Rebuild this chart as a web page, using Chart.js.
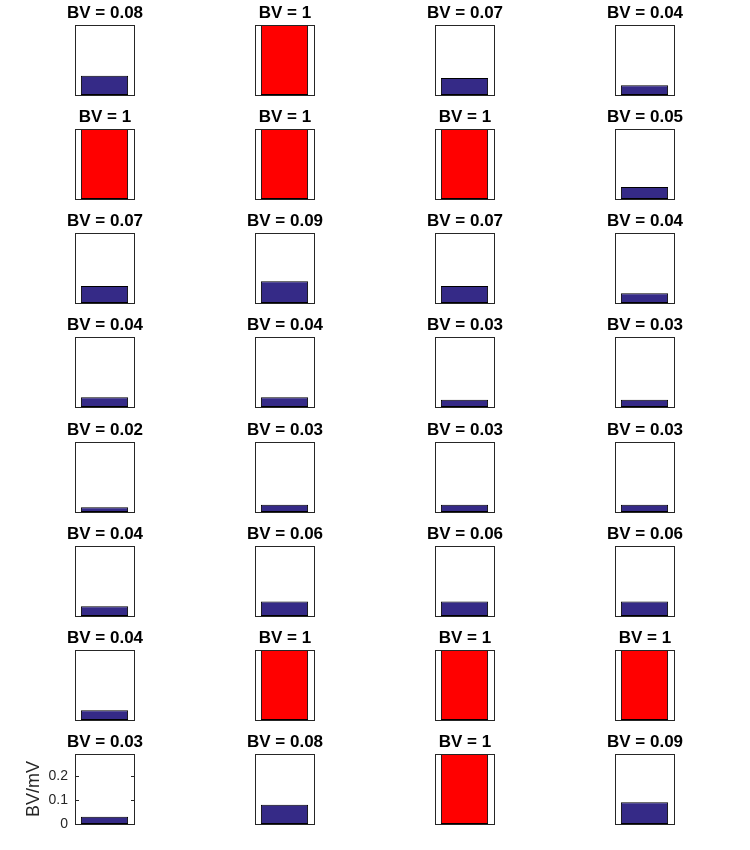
<!DOCTYPE html>
<html>
<head>
<meta charset="utf-8">
<script src="https://cdn.jsdelivr.net/npm/chart.js@4"></script>
<style>
  html, body { margin: 0; padding: 0; background: #fff; }
  #wrap { position: relative; width: 750px; height: 850px; overflow: hidden; background: #fff; }
  #wrap canvas { position: absolute; }
</style>
</head>
<body>
<div id="wrap"></div>
<script>
// ---- data (row-major, 8 rows x 4 columns) ----
const bvValues = [
  0.08, 1,    0.07, 0.04,
  1,    1,    1,    0.05,
  0.07, 0.09, 0.07, 0.04,
  0.04, 0.04, 0.03, 0.03,
  0.02, 0.03, 0.03, 0.03,
  0.04, 0.06, 0.06, 0.06,
  0.04, 1,    1,    1,
  0.03, 0.08, 1,    0.09
];
const yTicks = [0, 0.1, 0.2];
const yAxisTitle = 'BV/mV';
const titlePrefix = 'BV = ';

// ---- layout / style ----
const nRows = 8, nCols = 4;
const yMax = 0.29;
const blue = 'rgb(53,42,135)';
const red = 'rgb(255,0,0)';
Chart.defaults.font.family = "'Liberation Sans', Arial, Helvetica, sans-serif";

const boxPlugin = {
  id: 'box',
  afterDraw(chart, args, opts) {
    const {ctx, chartArea: a} = chart;
    const l = Math.round(a.left), r = Math.round(a.right), t = Math.round(a.top), b = Math.round(a.bottom);
    ctx.save();
    ctx.strokeStyle = '#262626';
    ctx.lineWidth = 1;
    ctx.strokeRect(l + 0.5, t + 0.5, r - l, b - t);
    if (opts.ticks) {
      const ys = chart.scales.y;
      ctx.beginPath();
      yTicks.forEach(v => {
        if (v === 0) return;
        const py = Math.round(ys.getPixelForValue(v)) + 0.5;
        ctx.moveTo(l, py); ctx.lineTo(l + 4, py);
        ctx.moveTo(r + 1, py); ctx.lineTo(r - 3, py);
      });
      ctx.stroke();
    }
    ctx.restore();
  }
};

const fixWidth = w => s => { s.width = w; s.paddingTop = 0; s.paddingBottom = 0; };

const wrap = document.getElementById('wrap');
bvValues.forEach((v, idx) => {
  const row = Math.floor(idx / nCols), col = idx % nCols;
  const showAxis = (row === nRows - 1 && col === 0);
  const cv = document.createElement('canvas');
  cv.width = 180; cv.height = 120;
  cv.style.width = '180px'; cv.style.height = '120px';
  const boxTop = Math.round(25 + row * 104.14);
  cv.style.left = (15 + col * 180) + 'px';
  cv.style.top = (boxTop - 30) + 'px';
  wrap.appendChild(cv);

  new Chart(cv, {
    type: 'bar',
    data: {
      labels: [''],
      datasets: [{
        data: [v],
        backgroundColor: v >= 1 ? red : blue,
        borderColor: '#000',
        borderWidth: 1,
        borderSkipped: false,
        barPercentage: 0.8,
        categoryPercentage: 1
      }]
    },
    options: {
      responsive: false,
      animation: false,
      devicePixelRatio: 1,
      events: [],
      layout: { padding: { left: 0, right: 0, top: 8.6, bottom: 20 } },
      plugins: {
        legend: { display: false },
        tooltip: { enabled: false },
        title: {
          display: true,
          text: titlePrefix + v,
          color: '#000',
          font: { size: 17, weight: 'bold' },
          padding: { top: 0, bottom: 1 }
        },
        box: { ticks: showAxis }
      },
      scales: {
        x: { display: false },
        y: {
          display: true,
          position: 'left',
          min: 0,
          max: yMax,
          afterBuildTicks: s => { s.ticks = yTicks.map(t => ({ value: t })); },
          afterFit: fixWidth(60),
          grid: { display: false, drawTicks: false },
          border: { display: false },
          ticks: { display: showAxis, padding: 7, color: '#262626', font: { size: 14 } },
          title: {
            display: showAxis,
            text: yAxisTitle,
            color: '#262626',
            font: { size: 18 },
            padding: { top: 8, bottom: 0 }
          }
        },
        yr: {
          display: true,
          position: 'right',
          min: 0,
          max: 1,
          afterFit: fixWidth(61),
          grid: { display: false, drawTicks: false },
          border: { display: false },
          ticks: { display: false }
        }
      }
    },
    plugins: [boxPlugin]
  });
});
</script>
</body>
</html>
